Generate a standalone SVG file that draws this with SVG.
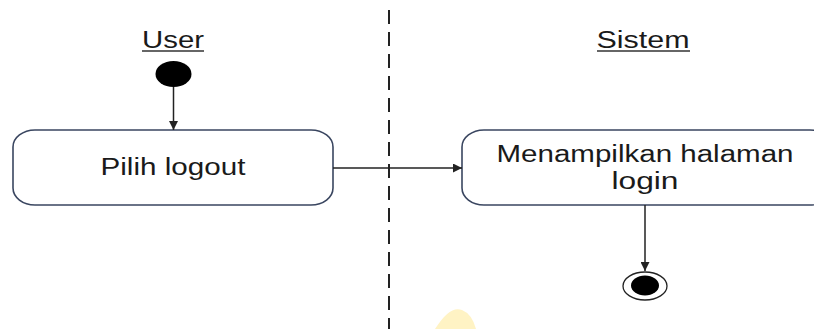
<svg xmlns="http://www.w3.org/2000/svg" width="814" height="329" viewBox="0 0 814 329">
<style>
.lbl{font-family:"Liberation Sans",Arial,sans-serif;fill:#1a1a1a;text-anchor:middle}
.act{fill:#fff;stroke:#3a4660;stroke-width:1.6}
.ln{stroke:#222;stroke-width:1.5;fill:none}
</style>
<defs>
<marker id="ah" viewBox="0 0 10 10" refX="10" refY="5" markerWidth="9" markerHeight="9" markerUnits="userSpaceOnUse" orient="auto">
<path d="M0,0 L10,5 L0,10 z" fill="#222"/>
</marker>
</defs>
<rect width="814" height="329" fill="#fff"/>
<path d="M435,329 Q450,305 462,310 Q472,314 476,329 Z" fill="#fff3c4"/>
<line x1="389" y1="10" x2="389" y2="329" stroke="#222" stroke-width="2" stroke-dasharray="14,8"/>
<g id="lane-user">
<text class="lbl" x="173" y="48" font-size="23" textLength="62" lengthAdjust="spacingAndGlyphs">User</text>
<line x1="142" y1="51" x2="204" y2="51" stroke="#333" stroke-width="1.3"/>
</g>
<g id="lane-sistem">
<text class="lbl" x="643" y="48" font-size="23" textLength="93" lengthAdjust="spacingAndGlyphs">Sistem</text>
<line x1="597" y1="51" x2="690" y2="51" stroke="#333" stroke-width="1.3"/>
</g>
<g id="start">
<ellipse cx="173.5" cy="74" rx="18" ry="13" fill="#000"/>
</g>
<g id="pilih-logout">
<rect class="act" x="13" y="130" width="320" height="75" rx="22" ry="17"/>
<text class="lbl" x="173" y="175" font-size="23.5" textLength="145" lengthAdjust="spacingAndGlyphs">Pilih logout</text>
</g>
<g id="menampilkan">
<rect class="act" x="462" y="130" width="370" height="75" rx="22" ry="17"/>
<text class="lbl" x="645" y="162" font-size="23.5" textLength="297" lengthAdjust="spacingAndGlyphs">Menampilkan halaman</text>
<text class="lbl" x="645" y="189" font-size="23.5" textLength="67" lengthAdjust="spacingAndGlyphs">login</text>
</g>
<g id="end">
<ellipse cx="645" cy="286" rx="22" ry="14" fill="#fff" stroke="#222" stroke-width="1.3"/>
<ellipse cx="645" cy="285.5" rx="14" ry="10" fill="#000"/>
</g>
<g id="connectors">
<line class="ln" x1="173.5" y1="87" x2="173.5" y2="130" marker-end="url(#ah)"/>
<line class="ln" x1="333" y1="168" x2="462" y2="168" marker-end="url(#ah)"/>
<line class="ln" x1="645" y1="205" x2="645" y2="271" marker-end="url(#ah)"/>
</g>
</svg>
